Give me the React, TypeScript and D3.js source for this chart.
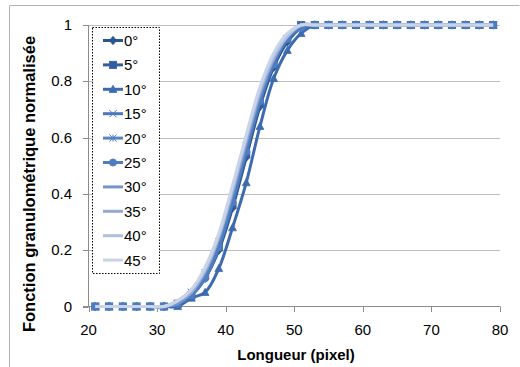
import React from "react";
import * as d3 from "d3";

const xValues = [21, 23, 25, 27, 29, 31, 33, 35, 37, 39, 41, 43, 45, 47, 49, 51, 53, 55, 57, 59, 61, 63, 65, 67, 69, 71, 73, 75, 77, 79];

const s0 = [0, 0, 0, 0, 0, 0, 0.01, 0.04, 0.1, 0.2, 0.35, 0.53, 0.71, 0.85, 0.94, 0.99, 1, 1, 1, 1, 1, 1, 1, 1, 1, 1, 1, 1, 1, 1];
const s5 = [0, 0, 0, 0, 0, 0, 0.01, 0.04, 0.11, 0.21, 0.36, 0.54, 0.72, 0.86, 0.95, 1, 1, 1, 1, 1, 1, 1, 1, 1, 1, 1, 1, 1, 1, 1];
const s10 = [0, 0, 0, 0, 0, 0, 0, 0.03, 0.05, 0.135, 0.28, 0.44, 0.64, 0.81, 0.91, 0.97, 1, 1, 1, 1, 1, 1, 1, 1, 1, 1, 1, 1, 1, 1];
const s15 = [0, 0, 0, 0, 0, 0, 0.01, 0.05, 0.11, 0.22, 0.38, 0.56, 0.73, 0.87, 0.95, 0.99, 1, 1, 1, 1, 1, 1, 1, 1, 1, 1, 1, 1, 1, 1];
const s20 = [0, 0, 0, 0, 0, 0, 0.01, 0.05, 0.12, 0.23, 0.39, 0.57, 0.74, 0.87, 0.95, 1, 1, 1, 1, 1, 1, 1, 1, 1, 1, 1, 1, 1, 1, 1];
const s25 = [0, 0, 0, 0, 0, 0, 0.01, 0.04, 0.1, 0.21, 0.37, 0.55, 0.73, 0.86, 0.95, 0.99, 1, 1, 1, 1, 1, 1, 1, 1, 1, 1, 1, 1, 1, 1];
const s30 = [0, 0, 0, 0, 0, 0, 0.01, 0.05, 0.12, 0.24, 0.4, 0.58, 0.75, 0.88, 0.96, 1, 1, 1, 1, 1, 1, 1, 1, 1, 1, 1, 1, 1, 1, 1];
const s35 = [0, 0, 0, 0, 0, 0, 0.02, 0.05, 0.13, 0.25, 0.41, 0.59, 0.76, 0.88, 0.96, 1, 1, 1, 1, 1, 1, 1, 1, 1, 1, 1, 1, 1, 1, 1];
const s40 = [0, 0, 0, 0, 0, 0, 0.02, 0.06, 0.13, 0.25, 0.42, 0.6, 0.77, 0.89, 0.96, 1, 1, 1, 1, 1, 1, 1, 1, 1, 1, 1, 1, 1, 1, 1];
const s45 = [0, 0, 0, 0, 0, 0, 0.02, 0.06, 0.14, 0.26, 0.43, 0.61, 0.78, 0.9, 0.97, 1, 1, 1, 1, 1, 1, 1, 1, 1, 1, 1, 1, 1, 1, 1];

const seriesNames = ["0°", "5°", "10°", "15°", "20°", "25°", "30°", "35°", "40°", "45°"];
const seriesValues = [s0, s5, s10, s15, s20, s25, s30, s35, s40, s45];
const seriesColors = ["#2B5591", "#335FA0", "#3D6BB0", "#4A78BC", "#5683C2", "#4F7EC0", "#7494CA", "#93AAD5", "#AFC0DF", "#C9D4E8"];
const seriesMarkers = ["diamond", "square", "triangle", "x", "star", "circle", "none", "none", "none", "none"];

const xTicks = [20, 30, 40, 50, 60, 70, 80];
const yTicks = [0, 0.2, 0.4, 0.6, 0.8, 1];

const FONT = "'Liberation Sans', Arial, sans-serif";

function Marker({ type, x, y, color }: { type: string; x: number; y: number; color: string }) {
  const r = 3.6;
  if (type === "diamond") {
    return <path d={`M${x},${y - r - 0.6}L${x + r},${y}L${x},${y + r + 0.6}L${x - r},${y}Z`} fill={color} stroke={color} strokeWidth={0.8} />;
  }
  if (type === "square") {
    return <rect x={x - r} y={y - r} width={2 * r} height={2 * r} fill={color} stroke={color} strokeWidth={0.8} />;
  }
  if (type === "triangle") {
    return <path d={`M${x},${y - r - 0.5}L${x + r + 0.3},${y + r - 0.5}L${x - r - 0.3},${y + r - 0.5}Z`} fill={color} stroke={color} strokeWidth={0.8} />;
  }
  if (type === "x") {
    return <path d={`M${x - r},${y - r}L${x + r},${y + r}M${x - r},${y + r}L${x + r},${y - r}`} stroke={color} strokeWidth={1} fill="none" />;
  }
  if (type === "star") {
    return <path d={`M${x - r},${y - r}L${x + r},${y + r}M${x - r},${y + r}L${x + r},${y - r}M${x},${y - r}L${x},${y + r}`} stroke={color} strokeWidth={1} fill="none" />;
  }
  if (type === "circle") {
    return <circle cx={x} cy={y} r={r} fill={color} stroke={color} strokeWidth={0.8} />;
  }
  return null;
}

export default function App() {
  const width = 520;
  const height = 367;
  const x = d3.scaleLinear().domain([20, 80]).range([88.5, 500]);
  const y = d3.scaleLinear().domain([0, 1]).range([306.5, 25]);

  const line = d3
    .line<[number, number]>()
    .x((d) => x(d[0]))
    .y((d) => y(d[1]))
    .curve(d3.curveCatmullRom.alpha(0.5));

  const legendX = 92;
  const legendY = 27;
  const legendStep = 24.4;

  return (
    <svg width={width} height={height} style={{ position: "absolute", left: 0, top: 0, background: "#fff" }} fontFamily={FONT}>
      <rect x={0} y={0} width={width} height={height} fill="#fff" />
      <path d={`M9.5,367V5.5H519.5`} fill="none" stroke="#b3b3b3" strokeWidth={1} />
      {yTicks.filter((t) => t > 0).map((t) => (
        <line key={"g" + t} x1={x(20)} x2={x(80)} y1={Math.round(y(t)) + 0.5} y2={Math.round(y(t)) + 0.5} stroke="#BEBEBE" strokeWidth={1} />
      ))}
      <line x1={88.5} x2={88.5} y1={y(1)} y2={y(0)} stroke="#8C8C8C" />
      <line x1={83} x2={x(80)} y1={306.5} y2={306.5} stroke="#8C8C8C" />
      {yTicks.map((t) => (
        <g key={"y" + t}>
          <line x1={83} x2={88.5} y1={Math.round(y(t)) + 0.5} y2={Math.round(y(t)) + 0.5} stroke="#8C8C8C" />
          <text x={72} y={y(t) + 5} textAnchor="end" fontSize={15} fill="#000">
            {String(t)}
          </text>
        </g>
      ))}
      {xTicks.map((t) => (
        <g key={"x" + t}>
          <line x1={Math.round(x(t)) + 0.5} x2={Math.round(x(t)) + 0.5} y1={306.5} y2={312} stroke="#8C8C8C" />
          <text x={x(t)} y={335} textAnchor="middle" fontSize={15} fill="#000">
            {String(t)}
          </text>
        </g>
      ))}
      {seriesValues.map((vals, i) => {
        const pts = xValues.map((xv, j) => [xv, vals[j]] as [number, number]);
        return (
          <g key={"s" + i}>
            <path d={line(pts) || ""} fill="none" stroke={seriesColors[i]} strokeWidth={3} strokeLinejoin="round" />
            {seriesMarkers[i] !== "none" &&
              pts.map((p, j) => <Marker key={j} type={seriesMarkers[i]} x={x(p[0])} y={y(p[1])} color={seriesColors[i]} />)}
          </g>
        );
      })}
      <text x={296} y={360} textAnchor="middle" fontSize={15} fontWeight="bold" fill="#000">
        Longueur (pixel)
      </text>
      <text transform="translate(35,184) rotate(-90)" textAnchor="middle" fontSize={16.5} fontWeight="bold" fill="#000">
        Fonction granulométrique normalisée
      </text>
      <rect x={legendX + 0.5} y={legendY + 0.5} width={67} height={246} fill="#fff" stroke="#000" strokeWidth={1} strokeDasharray="1.5,1.5" />
      {seriesNames.map((name, i) => {
        const cy = 40.5 + i * legendStep;
        return (
          <g key={"l" + i}>
            <line x1={103} x2={123} y1={cy} y2={cy} stroke={seriesColors[i]} strokeWidth={3} />
            <Marker type={seriesMarkers[i]} x={113} y={cy} color={seriesColors[i]} />
            <text x={124} y={cy + 5.5} fontSize={15} fill="#000">
              {name}
            </text>
          </g>
        );
      })}
    </svg>
  );
}
